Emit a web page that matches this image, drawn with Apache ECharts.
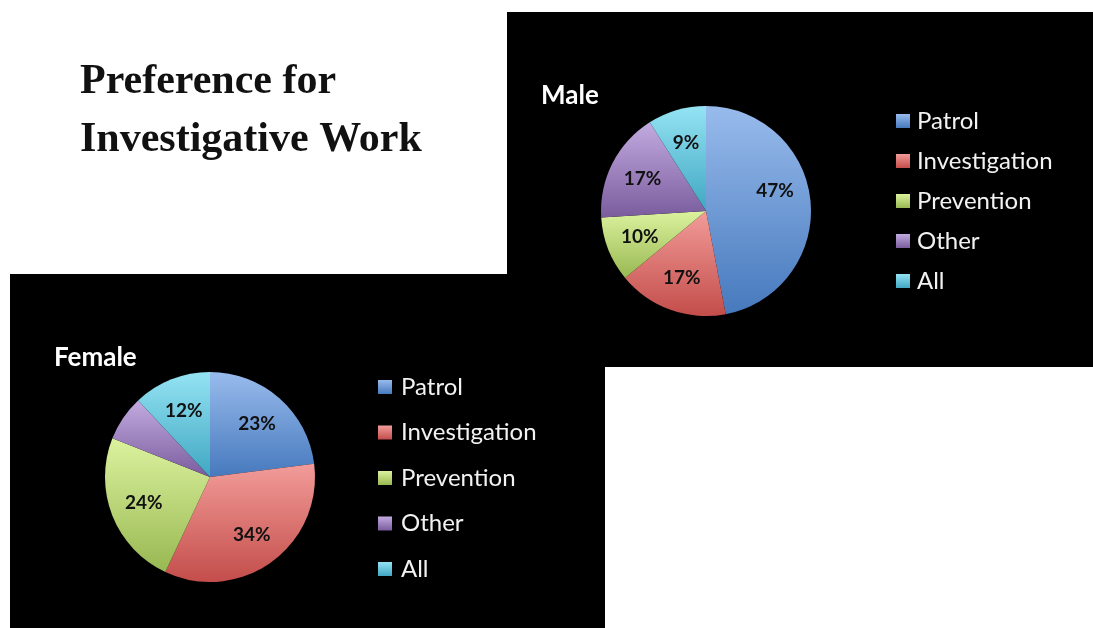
<!DOCTYPE html>
<html>
<head>
<meta charset="utf-8">
<script src="https://cdn.jsdelivr.net/npm/echarts@6/dist/echarts.min.js"></script>
<style>
html,body{margin:0;padding:0;background:#fff;}
#chart{width:1093px;height:628px;}
</style>
</head>
<body>
<div id="chart"></div>
<script>
const categories = ['Patrol', 'Investigation', 'Prevention', 'Other', 'All'];
const femaleValues = [23, 34, 24, 7, 12];
const maleValues = [47, 17, 10, 17, 9];
const femaleHiddenLabels = ['Other'];
const maleHiddenLabels = [];
const mainTitleLines = ['Preference for', 'Investigative Work'];
const femaleTitle = 'Female';
const maleTitle = 'Male';

const lightColors = ['#98bbec', '#f29c99', '#dcf29e', '#c2abe0', '#94e3f3'];
const darkColors  = ['#4679bd', '#c34d4a', '#98b852', '#7a5c9d', '#40a7c2'];

function grad(i) {
  return new echarts.graphic.LinearGradient(0, 0, 0, 1, [
    { offset: 0, color: lightColors[i] },
    { offset: 1, color: darkColors[i] }
  ]);
}

// small label nudges (style only, not data)
const labelNudge = { male: { Patrol: [-2, -13] }, female: {} };

function pieData(values, hidden, withColor, nudge) {
  return categories.map((name, i) => {
    const d = { name: name, value: values[i] };
    if (withColor) d.itemStyle = { color: grad(i) };
    if (hidden.indexOf(name) >= 0) d.label = { show: false };
    else if (nudge && nudge[name]) d.label = { offset: nudge[name] };
    return d;
  });
}

const R = 105;
const femaleCenter = [210, 477];
const maleCenter = [706, 211];

function pieSeries(values, hidden, center, nudge) {
  return [
    {
      type: 'pie',
      center: center,
      radius: [0, R],
      startAngle: 90,
      clockwise: true,
      animation: false,
      label: { show: false },
      labelLine: { show: false },
      itemStyle: { borderWidth: 0 },
      emphasis: { disabled: true },
      data: pieData(values, [], true, null)
    },
    {
      type: 'pie',
      center: center,
      radius: [0, R * 1.3],
      startAngle: 90,
      clockwise: true,
      animation: false,
      silent: true,
      legendHoverLink: false,
      itemStyle: { color: 'rgba(0,0,0,0)', borderWidth: 0 },
      label: {
        show: true,
        position: 'inside',
        formatter: '{c}%',
        color: '#111',
        fontFamily: 'Lato',
        fontWeight: 'bold',
        fontSize: 19
      },
      labelLine: { show: false },
      emphasis: { disabled: true },
      data: pieData(values, hidden, false, nudge)
    }
  ];
}

function legendCfg(left, top, gap, textPad) {
  return {
    orient: 'vertical',
    left: left,
    top: top,
    padding: 0,
    icon: 'rect',
    itemWidth: 14,
    itemHeight: 14,
    itemGap: gap,
    selectedMode: false,
    textStyle: { color: '#f2f2f2', fontFamily: 'Lato', fontSize: 24, lineHeight: 26, padding: [0, 0, 0, textPad] },
    data: categories.map((n, i) => ({ name: n, itemStyle: { color: grad(i) } }))
  };
}

const chart = echarts.init(document.getElementById('chart'), null, { renderer: 'canvas' });
chart.setOption({
  backgroundColor: '#ffffff',
  animation: false,
  graphic: [
    { type: 'rect', z: -10, shape: { x: 507, y: 12, width: 586, height: 355 }, style: { fill: '#000' } },
    { type: 'rect', z: -10, shape: { x: 10, y: 274, width: 595, height: 354 }, style: { fill: '#000' } },
    { type: 'text', left: 80, top: 61, style: { text: mainTitleLines[0], fill: '#111', font: 'bold 42px "Liberation Serif"' } },
    { type: 'text', left: 80, top: 119, style: { text: mainTitleLines[1], fill: '#111', font: 'bold 42px "Liberation Serif"' } },
    { type: 'text', left: 54, top: 345, style: { text: femaleTitle, fill: '#fff', font: 'bold 26px Lato' } },
    { type: 'text', left: 541, top: 83, style: { text: maleTitle, fill: '#fff', font: 'bold 26px Lato' } }
  ],
  legend: [
    legendCfg(378, 374, 19.5, 4),
    legendCfg(896, 108, 14, 2)
  ],
  series: [].concat(
    pieSeries(femaleValues, femaleHiddenLabels, femaleCenter, labelNudge.female),
    pieSeries(maleValues, maleHiddenLabels, maleCenter, labelNudge.male)
  )
});
</script>
</body>
</html>
